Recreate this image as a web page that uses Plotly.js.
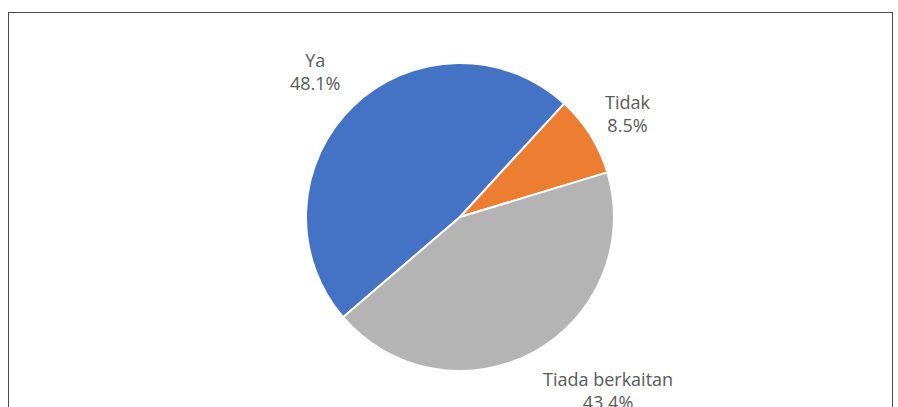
<!DOCTYPE html>
<html>
<head>
<meta charset="utf-8">
<script src="https://cdn.plot.ly/plotly-3.0.1.min.js"></script>
<style>
  html, body { margin: 0; padding: 0; background: #fff; overflow: hidden; }
  #frame { position: absolute; left: 8px; top: 12px; width: 885px; height: 430px;
           border: 1.5px solid #4a4a4a; box-sizing: border-box; }
  #plot { position: absolute; left: 0; top: 0; width: 898px; height: 407px; }
</style>
</head>
<body>
<div id="frame"></div>
<div id="plot"></div>
<script>
// answers
var labels = ["Ya", "Tidak", "Tiada berkaitan"];
var percents = [48.1, 8.5, 43.4];
var colors = ["#4472C4", "#ED7D31", "#B4B4B4"];

var W = 898, H = 407;
var startAngle = 229.4;
var dom = { x: [306 / W, 614 / W], y: [1 - 371 / H, 1 - 63 / H] };

var trace = {
  type: "pie",
  labels: labels,
  values: percents,
  sort: false,
  direction: "clockwise",
  rotation: startAngle,
  marker: { colors: colors, line: { color: "#ffffff", width: 2 } },
  textinfo: "none",
  hoverinfo: "none",
  domain: dom
};

// data labels sit just outside each slice, roughly like Excel's best fit
var cx = (dom.x[0] + dom.x[1]) / 2, cy = (dom.y[0] + dom.y[1]) / 2;
var rx = (dom.x[1] - dom.x[0]) / 2 * 1.1, ry = (dom.y[1] - dom.y[0]) / 2 * 1.1;
var total = percents.reduce((a, b) => a + b, 0);
var cum = 0;
var annotations = percents.map(function (p, i) {
  var mid = (startAngle + 360 * (cum + p / 2) / total) * Math.PI / 180;
  cum += p;
  var s = Math.sin(mid), c = Math.cos(mid);
  var k = Math.min(1, Math.max(0, (Math.abs(c) - 0.3) / 0.45));
  return {
    xref: "paper", yref: "paper",
    x: cx + rx * s, y: cy + ry * c,
    xanchor: s >= 0 ? "left" : "right",
    yanchor: "middle",
    yshift: (c >= 0 ? 1 : -1) * k * 25,
    align: "center",
    showarrow: false,
    text: labels[i] + "<br>" + p.toFixed(1) + "%",
    font: { family: "Open Sans, sans-serif", size: 18, color: "#595959" }
  };
});

var layout = {
  width: W,
  height: H,
  margin: { l: 0, r: 0, t: 0, b: 0 },
  showlegend: false,
  annotations: annotations,
  paper_bgcolor: "rgba(0,0,0,0)",
  plot_bgcolor: "rgba(0,0,0,0)"
};

Plotly.newPlot("plot", [trace], layout, { displayModeBar: false, staticPlot: true });
</script>
</body>
</html>
